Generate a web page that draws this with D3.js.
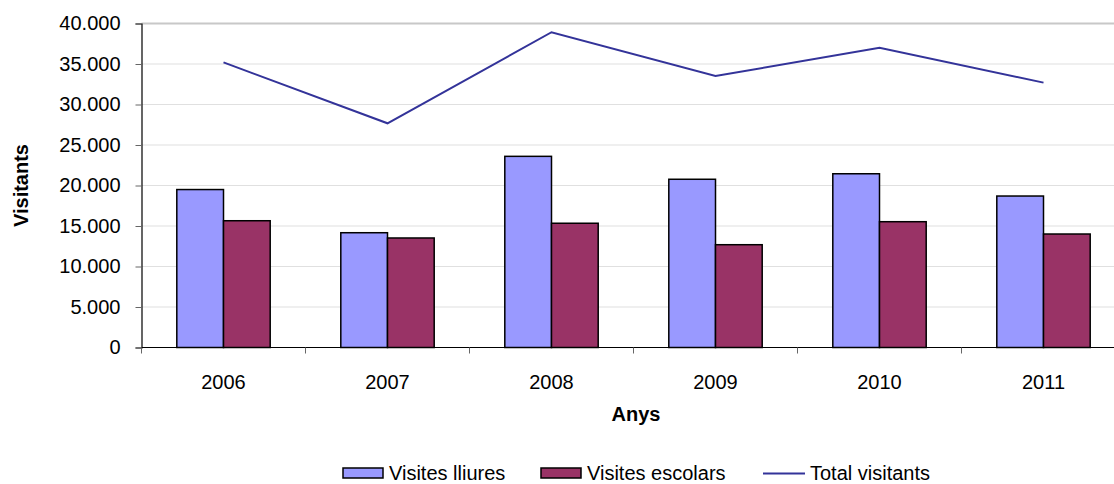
<!DOCTYPE html>
<html>
<head>
<meta charset="utf-8">
<script src="https://cdn.jsdelivr.net/npm/d3@7"></script>
<style>
  body { margin: 0; background: #fff; }
  svg { font-family: "Liberation Sans", Arial, sans-serif; }
</style>
</head>
<body>
<svg id="chart" width="1114" height="484"></svg>
<script>
// data
var years = ["2006", "2007", "2008", "2009", "2010", "2011"];
var visitesLliures = [19500, 14170, 23600, 20770, 21450, 18700];
var visitesEscolars = [15650, 13520, 15340, 12690, 15530, 14010];
var totalVisitants = [35200, 27680, 38920, 33520, 37000, 32700];
var yTicks = [0, 5000, 10000, 15000, 20000, 25000, 30000, 35000, 40000];
var seriesNames = ["Visites lliures", "Visites escolars", "Total visitants"];

var colors = { lliures: "#9999ff", escolars: "#993366", total: "#333399" };

var svg = d3.select("#chart");

var plotLeft = 141.5, plotRight = 1125.5, plotTop = 23.5, plotBottom = 347.5;
var fontSize = 20;

var x0 = d3.scaleBand().domain(years).range([plotLeft, plotRight]).padding(0);
var x1 = d3.scaleBand().domain(["lliures", "escolars"])
    .range([0, x0.bandwidth()]).paddingInner(0).paddingOuter(0.756);
var y = d3.scaleLinear().domain([0, 40000]).range([plotBottom, plotTop]);

var fmt = function(v) { return v === 0 ? "0" : d3.format(",")(v).replace(/,/g, "."); };

// gridlines
svg.append("g").selectAll("line")
    .data(yTicks.filter(d => d > 0))
    .enter().append("line")
    .attr("x1", plotLeft).attr("x2", plotRight)
    .attr("y1", d => y(d)).attr("y2", d => y(d))
    .attr("stroke", d => d === 40000 ? "#c8c8c8" : "#e0e0e0")
    .attr("stroke-width", d => d === 40000 ? 2 : 1.2);

// bars
var rows = years.map((yr, i) => ({ year: yr, lliures: visitesLliures[i], escolars: visitesEscolars[i] }));

var groups = svg.append("g").selectAll("g")
    .data(rows)
    .enter().append("g")
    .attr("transform", d => `translate(${x0(d.year)},0)`);

groups.selectAll("rect")
    .data(d => ["lliures", "escolars"].map(k => ({ key: k, value: d[k] })))
    .enter().append("rect")
    .attr("x", d => x1(d.key))
    .attr("y", d => y(d.value))
    .attr("width", x1.bandwidth())
    .attr("height", d => plotBottom - y(d.value))
    .attr("fill", d => colors[d.key])
    .attr("stroke", "#000")
    .attr("stroke-width", 1.5);

// total line
var line = d3.line()
    .x((d, i) => x0(years[i]) + x0.bandwidth() / 2)
    .y(d => y(d));

svg.append("path")
    .datum(totalVisitants)
    .attr("d", line)
    .attr("fill", "none")
    .attr("stroke", colors.total)
    .attr("stroke-width", 2);

// y axis
var yAxis = d3.axisLeft(y).tickValues(yTicks).tickFormat(fmt).tickSize(6).tickPadding(15);
var gy = svg.append("g").attr("transform", `translate(${plotLeft},0)`).call(yAxis);
gy.select(".domain").attr("stroke", "#000").attr("stroke-width", 1.2);
gy.selectAll(".tick line").attr("stroke", "#666");
gy.selectAll("text").attr("font-size", fontSize).attr("fill", "#000")
    .attr("font-family", "Liberation Sans, Arial, sans-serif");

// x axis
var xAxis = d3.axisBottom(x0).tickSize(0).tickPadding(0);
var gx = svg.append("g").attr("transform", `translate(0,${plotBottom})`).call(xAxis);
gx.select(".domain").remove();
gx.selectAll(".tick text").attr("font-size", fontSize).attr("fill", "#000")
    .attr("dy", 0).attr("y", 41)
    .attr("font-family", "Liberation Sans, Arial, sans-serif");
svg.append("line").attr("x1", plotLeft).attr("x2", plotRight)
    .attr("y1", plotBottom).attr("y2", plotBottom)
    .attr("stroke", "#000").attr("stroke-width", 1.2);
svg.append("g").selectAll("line")
    .data(years)
    .enter().append("line")
    .attr("x1", d => x0(d)).attr("x2", d => x0(d))
    .attr("y1", plotBottom).attr("y2", plotBottom + 6)
    .attr("stroke", "#666");

// axis titles
svg.append("text")
    .attr("transform", `translate(28,${(plotTop + plotBottom) / 2}) rotate(-90)`)
    .attr("text-anchor", "middle")
    .attr("font-size", fontSize).attr("font-weight", "bold")
    .text("Visitants");

svg.append("text")
    .attr("x", 636).attr("y", 421)
    .attr("text-anchor", "middle")
    .attr("font-size", fontSize).attr("font-weight", "bold")
    .text("Anys");

// legend
var legendX = [343, 541, 763];
var legend = svg.append("g").selectAll("g")
    .data(seriesNames)
    .enter().append("g")
    .attr("transform", (d, i) => `translate(${legendX[i]},468)`);

legend.filter((d, i) => i < 2).append("rect")
    .attr("width", 40).attr("height", 10)
    .attr("fill", (d, i) => i === 0 ? colors.lliures : colors.escolars)
    .attr("stroke", "#000").attr("stroke-width", 1.5);

legend.filter((d, i) => i === 2).append("line")
    .attr("x1", 0).attr("x2", 42).attr("y1", 5.5).attr("y2", 5.5)
    .attr("stroke", colors.total).attr("stroke-width", 2);

legend.append("text")
    .attr("x", (d, i) => i === 2 ? 47 : 46)
    .attr("y", 12)
    .attr("font-size", fontSize)
    .text(d => d);
</script>
</body>
</html>
